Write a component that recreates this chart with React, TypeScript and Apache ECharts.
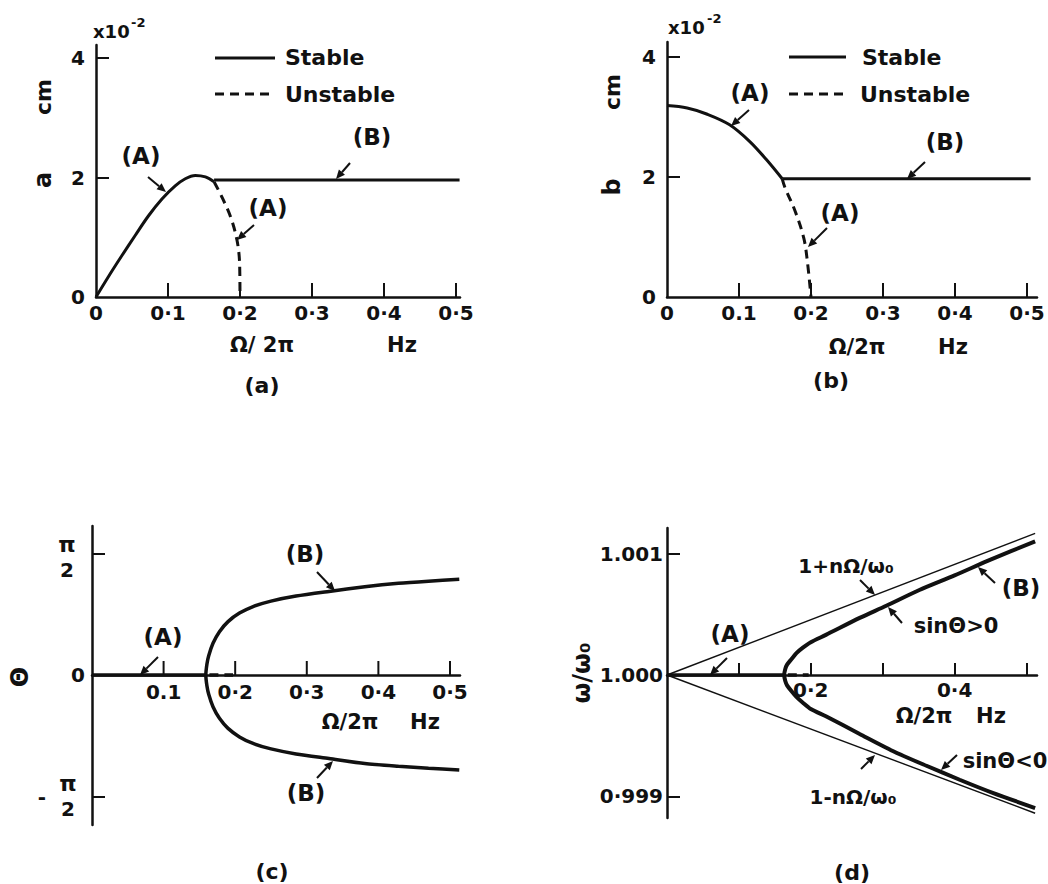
import React, { useEffect, useRef } from "react";
import * as echarts from "echarts";

// ---------- Panel (a): amplitude a (x10^-2 cm) vs Ω/2π (Hz)
const aStableAX = [0, 0.0172, 0.0358, 0.0544, 0.073, 0.0916, 0.11, 0.124, 0.138, 0.152, 0.164];
const aStableAY = [0, 0.34, 0.69, 1.03, 1.36, 1.64, 1.86, 1.98, 2.035, 2.01, 1.93];
const aUnstableAX = [0.164, 0.175, 0.187, 0.196, 0.1995, 0.2];
const aUnstableAY = [1.93, 1.67, 1.34, 0.94, 0.55, 0];
const aStableBX = [0.164, 0.505];
const aStableBY = [1.96, 1.96];

// ---------- Panel (b): amplitude b
const bStableAX = [0, 0.028, 0.055, 0.087, 0.115, 0.138, 0.16];
const bStableAY = [3.19, 3.15, 3.05, 2.87, 2.59, 2.29, 1.97];
const bUnstableAX = [0.16, 0.164, 0.178, 0.19, 0.195, 0.2];
const bUnstableAY = [1.97, 1.82, 1.43, 0.98, 0.59, 0];
const bStableBX = [0.16, 0.505];
const bStableBY = [1.97, 1.97];

// ---------- Panel (c): phase Θ (rad)
const cStableAX = [0, 0.159];
const cStableAY = [0, 0];
const cUnstableAX = [0.164, 0.197];
const cUnstableAY = [0, 0];
const cBranchX = [0.513, 0.47, 0.428, 0.381, 0.331, 0.285, 0.25, 0.225, 0.206, 0.19, 0.178, 0.169, 0.163, 0.1605, 0.159,
  0.1605, 0.163, 0.169, 0.178, 0.19, 0.206, 0.225, 0.25, 0.285, 0.331, 0.381, 0.428, 0.47, 0.513];
const cBranchY = [1.237, 1.213, 1.185, 1.14, 1.08, 1.02, 0.955, 0.885, 0.8, 0.69, 0.56, 0.41, 0.25, 0.14, 0,
  -0.14, -0.25, -0.41, -0.56, -0.69, -0.8, -0.885, -0.955, -1.02, -1.08, -1.145, -1.18, -1.205, -1.228];

// ---------- Panel (d): ω/ω0
const dUpperBoundX = [0, 0.512];
const dUpperBoundY = [1.0, 1.001166];
const dLowerBoundX = [0, 0.512];
const dLowerBoundY = [1.0, 0.998862];
const dStableAX = [0, 0.163];
const dStableAY = [1.0, 1.0];
const dUnstableAX = [0.168, 0.197];
const dUnstableAY = [1.0, 1.0];
const dBranchX = [0.512, 0.45, 0.4, 0.351, 0.305, 0.268, 0.221, 0.2, 0.189, 0.18, 0.173, 0.167, 0.1645, 0.163,
  0.1645, 0.167, 0.173, 0.18, 0.189, 0.2, 0.221, 0.268, 0.314, 0.36, 0.407, 0.453, 0.512];
const dBranchY = [1.0011, 1.00095, 1.00082, 1.0007, 1.00057, 1.00047, 1.00033, 1.00027, 1.000225, 1.00018, 1.00013, 1.000085, 1.00005, 1.0,
  0.99995, 0.999915, 0.999868, 0.99982, 0.999772, 0.99972, 0.99966, 0.999515, 0.999375, 0.999255, 0.999138, 0.99903, 0.998905];

// ---------- Tick values / labels
const abXTicks = [0.1, 0.2, 0.3, 0.4, 0.5];
const abXLabelVals = [0, 0.1, 0.2, 0.3, 0.4, 0.5];
const aXLabels = ["0", "0·1", "0·2", "0·3", "0·4", "0·5"];
const bXLabels = ["0", "0.1", "0·2", "0·3", "0·4", "0·5"];
const abYTicks = [2, 4];
const abYLabelVals = [0, 2, 4];
const abYLabels = ["0", "2", "4"];
const cXTicks = [0.1, 0.2, 0.3, 0.4, 0.5];
const cXLabelVals = [0.1, 0.2, 0.3, 0.4, 0.5];
const cXLabels = ["0.1", "0·2", "0·3", "0·4", "0·5"];
const HALF_PI = Math.PI / 2;
const cYTicks = [-HALF_PI, HALF_PI];
const cYLabelVals = [0];
const cYLabels = ["0"];
const dXTicks = [0.1, 0.2, 0.3, 0.4, 0.5];
const dXLabelVals = [0.2, 0.4];
const dXLabels = ["0·2", "0·4"];
const dYTicks = [0.999, 1.001];
const dYLabelVals = [0.999, 1.0, 1.001];
const dYLabels = ["0·999", "1.000", "1.001"];

const FONT = '"DejaVu Sans", "Noto Sans", sans-serif';
const INK = "#111";
const LABEL = { color: INK, fontSize: 20, fontWeight: "bold", fontFamily: FONT };

// layout of panel (c)
const C_LEFT = 92, C_TOP = 526, C_WIDTH = 368, C_HEIGHT = 299;
const C_XMAX = 0.514, C_YMIN = -1.939, C_YMAX = 1.926;

const pairs = (xs: number[], ys: number[]) => xs.map((x, i) => [x, ys[i]]);
const fmtFrom = (vals: number[], labels: string[]) => (v: number) => {
  const i = vals.findIndex((t) => Math.abs(t - v) < 1e-7);
  return i >= 0 ? labels[i] : "";
};

function makeX(gridIndex: number, max: number, ticks: number[], lv: number[], lt: string[], margin: number, show = true, tickLen = 14) {
  return {
    type: "value", gridIndex, min: 0, max, show,
    axisLine: { show: true, onZero: false, lineStyle: { color: INK, width: 2.5 } },
    axisTick: { show: true, inside: true, length: tickLen, customValues: ticks.slice(), lineStyle: { color: INK, width: 2 } },
    axisLabel: { show: true, customValues: lv.slice(), formatter: fmtFrom(lv, lt), margin, ...LABEL },
    splitLine: { show: false },
  };
}
function makeY(gridIndex: number, min: number, max: number, ticks: number[], lv: number[], lt: string[], margin: number, show = true) {
  return {
    type: "value", gridIndex, min, max, show,
    axisLine: { show: true, onZero: false, lineStyle: { color: INK, width: 2.5 } },
    axisTick: { show: true, inside: true, length: 13, customValues: ticks.slice(), lineStyle: { color: INK, width: 2 } },
    axisLabel: { show: true, customValues: lv.slice(), formatter: fmtFrom(lv, lt), margin, ...LABEL },
    splitLine: { show: false },
  };
}
const hiddenY = (gridIndex: number) => ({ type: "value", gridIndex, min: 0, max: 1, show: false });
function series(idx: number, xs: number[], ys: number[], width: number, dashed = false, smooth: number | boolean = 0.35) {
  return {
    type: "line", xAxisIndex: idx, yAxisIndex: idx, data: pairs(xs, ys), symbol: "none", smooth,
    silent: true, z: 3,
    lineStyle: { color: INK, width, type: dashed ? [9, 6] : "solid", cap: "butt" },
  };
}
function txt(s: string, x: number, y: number, size = 23, extra: any = {}) {
  return {
    type: "text", x, y, z: 10,
    style: { text: s, fill: INK, fontSize: size, fontWeight: "bold", fontFamily: FONT, align: "center", verticalAlign: "middle", ...(extra.style || {}) },
    ...(extra.rotation !== undefined ? { rotation: extra.rotation } : {}),
  };
}
function arrow(x1: number, y1: number, x2: number, y2: number) {
  const dx = x2 - x1, dy = y2 - y1, L = Math.hypot(dx, dy);
  const ux = dx / L, uy = dy / L, h = 9, w = 4;
  const bx = x2 - ux * h, by = y2 - uy * h;
  return [
    { type: "line", z: 10, shape: { x1, y1, x2: bx, y2: by }, style: { stroke: INK, lineWidth: 2 } },
    { type: "polygon", z: 10, shape: { points: [[x2, y2], [bx - uy * w, by + ux * w], [bx + uy * w, by - ux * w]] }, style: { fill: INK } },
  ];
}
function seg(x1: number, y1: number, x2: number, y2: number, dashed = false) {
  return { type: "line", z: 10, shape: { x1, y1, x2, y2 }, style: { stroke: INK, lineWidth: 3, lineDash: dashed ? [9, 6] : null } };
}
// tick mark on panel (c)'s Θ = 0 axis, mapped with the panel's own linear scale
function cTick(v: number) {
  const x = C_LEFT + (v / C_XMAX) * C_WIDTH;
  const y0 = C_TOP + (C_YMAX / (C_YMAX - C_YMIN)) * C_HEIGHT;
  return { type: "line", z: 20, shape: { x1: x, y1: y0, x2: x, y2: y0 - 14 }, style: { stroke: INK, lineWidth: 2 } };
}

export default function App() {
  const ref = useRef<HTMLDivElement>(null);
  useEffect(() => {
    const el = ref.current;
    if (!el) return;
    const chart = echarts.init(el, null, { renderer: "svg" });
    const left = { align: "left" };
    const R = Math.PI / 2;
    const graphic: any[] = [
      // panel (a)
      txt("x10", 93, 31, 18, { style: left }), txt("-2", 131, 22, 13, { style: left }),
      seg(215, 58, 275, 58), seg(215, 94, 275, 94, true),
      txt("Stable", 285, 57, 22, { style: left }), txt("Unstable", 285, 94, 22, { style: left }),
      txt("a", 43, 180, 24, { rotation: R }), txt("cm", 43, 97, 22, { rotation: R }),
      txt("(A)", 141, 156), txt("(B)", 372, 137), txt("(A)", 268, 208),
      ...arrow(148, 177, 166, 192), ...arrow(350, 163, 336, 179), ...arrow(254, 225, 237, 240),
      txt("Ω/ 2π", 262, 345, 21), txt("Hz", 402, 345, 21), txt("(a)", 262, 385, 22),
      // panel (b)
      txt("x10", 668, 27, 18, { style: left }), txt("-2", 707, 18, 13, { style: left }),
      seg(789, 57, 846, 57), seg(789, 94, 846, 94, true),
      txt("Stable", 862, 57, 22, { style: left }), txt("Unstable", 860, 94, 22, { style: left }),
      txt("b", 612, 187, 24, { rotation: R }), txt("cm", 612, 92, 22, { rotation: R }),
      txt("(A)", 750, 93), txt("(B)", 945, 142), txt("(A)", 840, 213),
      ...arrow(749, 110, 731, 126), ...arrow(925, 162, 907, 179), ...arrow(827, 228, 808, 247),
      txt("Ω/2π", 857, 347, 21), txt("Hz", 953, 347, 21), txt("(b)", 831, 380, 22),
      // panel (c)
      txt("Θ", 20, 677, 24, { rotation: R }),
      txt("π", 67, 544, 22), txt("2", 67, 570, 20),
      txt("-", 42, 797, 20), txt("π", 68, 783, 22), txt("2", 68, 809, 20),
      txt("(B)", 305, 554), txt("(A)", 163, 637), txt("(B)", 306, 793),
      ...arrow(317, 572, 335, 591), ...arrow(158, 657, 140, 675), ...arrow(317, 778, 333, 761),
      txt("Ω/2π", 350, 722, 21), txt("Hz", 425, 722, 21), txt("(c)", 272, 871, 22),
      ...cXTicks.map(cTick),
      // panel (d)
      txt("ω/ω₀", 582, 673, 24, { rotation: R }),
      txt("1+nΩ/ω₀", 846, 566, 20), txt("(B)", 1021, 588), txt("sinΘ>0", 956, 626, 21),
      txt("(A)", 730, 634), txt("Ω/2π", 924, 716, 21), txt("Hz", 991, 716, 21),
      txt("sinΘ<0", 1005, 761, 21), txt("1-nΩ/ω₀", 853, 797, 20), txt("(d)", 852, 872, 22),
      ...arrow(860, 580, 875, 595), ...arrow(995, 583, 978, 567), ...arrow(902, 623, 888, 607),
      ...arrow(727, 658, 710, 675), ...arrow(957, 755, 941, 770), ...arrow(861, 769, 875, 755),
    ];

    const option: any = {
      animation: false,
      backgroundColor: "#fff",
      grid: [
        { left: 96, top: 45, width: 364, height: 252 },
        { left: 667, top: 42, width: 370, height: 255 },
        { left: C_LEFT, top: C_TOP, width: C_WIDTH, height: C_HEIGHT },
        { left: 667, top: 528, width: 370, height: 290 },
        { left: 667, top: 528, width: 370, height: 147 },
        { left: C_LEFT, top: C_TOP, width: C_WIDTH, height: 149 },
      ],
      xAxis: [
        makeX(0, 0.5056, abXTicks, abXLabelVals, aXLabels, 6),
        makeX(1, 0.5139, abXTicks, abXLabelVals, bXLabels, 6),
        makeX(2, C_XMAX, [], [], [], 7, false),
        makeX(3, 0.5146, [], [], [], 5, false),
        makeX(4, 0.5146, dXTicks, dXLabelVals, dXLabels, 5, true, 12),
        {
          type: "value", gridIndex: 5, min: 0, max: C_XMAX,
          axisLine: { show: true, onZero: false, lineStyle: { color: INK, width: 2.5 } },
          axisTick: { show: false },
          axisLabel: { show: true, customValues: cXLabelVals.slice(), formatter: fmtFrom(cXLabelVals, cXLabels), margin: 7, ...LABEL },
          splitLine: { show: false },
        },
      ],
      yAxis: [
        makeY(0, 0, 4.218, abYTicks, abYLabelVals, abYLabels, 11),
        makeY(1, 0, 4.25, abYTicks, abYLabelVals, abYLabels, 11),
        makeY(2, C_YMIN, C_YMAX, cYTicks, cYLabelVals, cYLabels, 7),
        makeY(3, 0.998823, 1.00121, dYTicks, dYLabelVals, dYLabels, 4),
        hiddenY(4),
        hiddenY(5),
      ],
      series: [
        series(0, aStableAX, aStableAY, 3),
        series(0, aUnstableAX, aUnstableAY, 3, true),
        series(0, aStableBX, aStableBY, 3, false, false),
        series(1, bStableAX, bStableAY, 3),
        series(1, bUnstableAX, bUnstableAY, 3, true),
        series(1, bStableBX, bStableBY, 3, false, false),
        series(2, cStableAX, cStableAY, 3.5, false, false),
        series(2, cUnstableAX, cUnstableAY, 3.5, true, false),
        series(2, cBranchX, cBranchY, 3.5, false, 0.25),
        series(3, dUpperBoundX, dUpperBoundY, 1.4, false, false),
        series(3, dLowerBoundX, dLowerBoundY, 1.4, false, false),
        series(3, dStableAX, dStableAY, 3.5, false, false),
        series(3, dUnstableAX, dUnstableAY, 3.5, true, false),
        series(3, dBranchX, dBranchY, 4, false, 0.25),
      ],
      graphic,
    };
    chart.setOption(option);
    return () => chart.dispose();
  }, []);
  return (
    <div
      ref={ref}
      style={{ position: "absolute", left: 0, top: 0, width: 1048, height: 884, background: "#fff" }}
    />
  );
}
